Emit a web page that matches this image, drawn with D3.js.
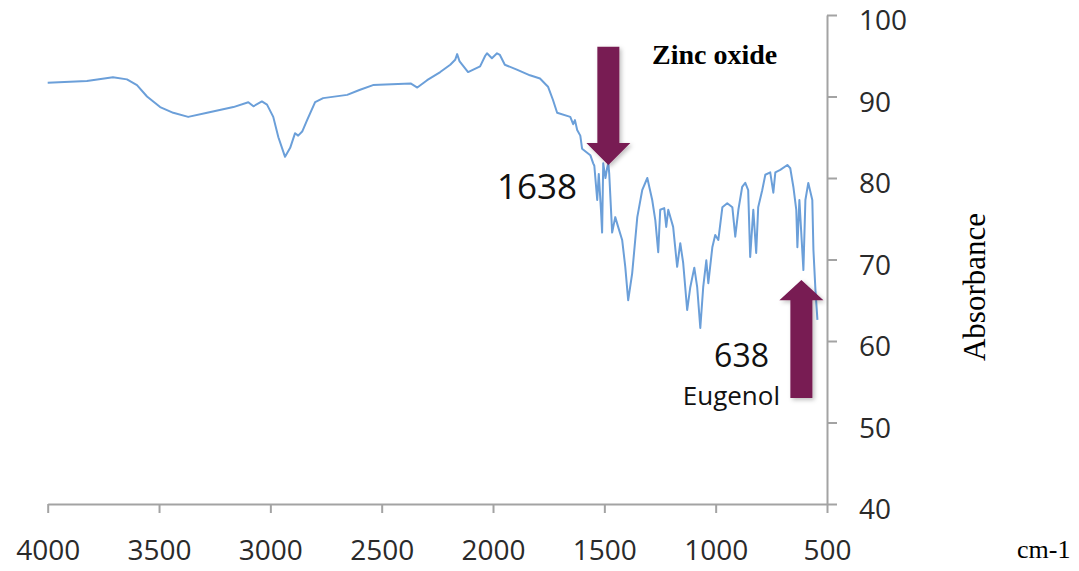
<!DOCTYPE html>
<html>
<head>
<meta charset="utf-8">
<script src="https://cdn.jsdelivr.net/npm/d3@7"></script>
<style>
  body { margin: 0; background: #fff; }
  svg { display: block; }
  .tick text { font-family: "Open Sans", sans-serif; font-size: 28px; fill: #2a2a2a; }
</style>
</head>
<body>
<div id="chart"></div>
<script>
// spectrum (wavenumber cm-1, value)
var wavenumber = [4000, 3824, 3707, 3644, 3599, 3554, 3495, 3436, 3369, 3284, 3166, 3099, 3076, 3038, 3015,
  2987, 2964, 2934, 2911, 2889, 2875, 2857, 2835, 2799, 2763, 2655, 2600, 2539, 2370, 2340, 2296, 2237,
  2192, 2170, 2161, 2150, 2112, 2058, 2035, 2027, 2005, 1982, 1969, 1947, 1893, 1834, 1789, 1753, 1731,
  1712, 1653, 1640, 1632, 1622, 1608, 1600, 1563, 1550, 1545, 1532, 1525, 1515, 1510, 1505, 1495, 1487,
  1482, 1478, 1465, 1451, 1438, 1420, 1406, 1393, 1375, 1352, 1330, 1307, 1285, 1271, 1258, 1249, 1231,
  1222, 1213, 1191, 1173, 1159, 1146, 1128, 1114, 1096, 1083, 1069, 1056, 1042, 1033, 1015, 1002, 988,
  970, 948, 925, 912, 898, 881, 867, 854, 845, 831, 818, 809, 791, 777, 755, 741, 732, 710, 678, 665,
  651, 638, 633, 624, 606, 597, 584, 566, 561, 552, 543];
var absorbance = [91.7, 91.9, 92.35, 92.1, 91.4, 90.0, 88.7, 88.0, 87.5, 88.0, 88.7, 89.3, 88.8, 89.4, 89.0,
  87.5, 85.0, 82.6, 83.7, 85.5, 85.2, 85.7, 87.1, 89.3, 89.8, 90.2, 90.8, 91.4, 91.6, 91.1, 92.0, 93.0,
  93.9, 94.5, 95.2, 94.3, 93.0, 93.7, 95.0, 95.3, 94.7, 95.3, 95.1, 93.9, 93.3, 92.6, 92.2, 91.2, 89.6,
  88.0, 87.5, 86.6, 87.1, 85.9, 85.2, 83.6, 82.8, 81.8, 81.5, 77.3, 80.5, 76.0, 73.3, 81.8, 80.0, 81.3,
  81.8, 80.5, 73.3, 75.2, 74.0, 72.4, 69.1, 65.0, 68.3, 75.2, 78.5, 80.0, 77.3, 74.8, 70.9, 76.1, 76.3,
  74.0, 76.1, 74.0, 69.1, 72.0, 69.6, 63.8, 66.6, 69.0, 66.6, 61.6, 66.6, 69.9, 67.1, 71.5, 73.0, 72.4,
  76.4, 76.9, 76.4, 72.8, 76.1, 78.9, 79.4, 78.5, 70.3, 76.1, 70.8, 76.4, 78.5, 80.4, 80.7, 78.2, 80.7, 81.0, 81.6, 81.2,
  78.9, 76.1, 71.5, 77.3, 68.7, 77.3, 79.4, 77.3, 71.2, 66.3, 62.6];

var xTicks = [4000, 3500, 3000, 2500, 2000, 1500, 1000, 500];
var yTicks = [40, 50, 60, 70, 80, 90, 100];

// annotation arrows: [wavenumber, tail value, head base value, tip value]
var arrowDown = [1482, 96.1, 84.3, 81.6];
var arrowUp = [615, 53.0, 65.0, 67.5];

var width = 1079, height = 571;
var svg = d3.select("#chart").append("svg")
    .attr("width", width)
    .attr("height", height);

svg.append("rect").attr("width", width).attr("height", height).attr("fill", "#fff");

var x = d3.scaleLinear().domain([4000, 500]).range([47.7, 827]);
var y = d3.scaleLinear().domain([40, 100]).range([504, 15]);

var axisColor = "#a3a3a3";

// x axis
var gx = svg.append("g")
    .attr("transform", "translate(0," + y(40) + ")")
    .call(d3.axisBottom(x).tickValues(xTicks).tickSize(9).tickSizeOuter(0).tickFormat(d3.format("d")));
gx.select(".domain").attr("stroke", axisColor).attr("stroke-width", 2);
gx.selectAll(".tick line").attr("stroke", axisColor).attr("stroke-width", 2);
gx.selectAll(".tick text").attr("y", 46).attr("dy", "0.35em");

// y axis on the right
var gy = svg.append("g")
    .attr("transform", "translate(" + x(500) + ",0)")
    .call(d3.axisRight(y).tickValues(yTicks).tickSize(10).tickSizeOuter(0));
gy.select(".domain").attr("stroke", axisColor).attr("stroke-width", 2);
gy.selectAll(".tick line").attr("stroke", axisColor).attr("stroke-width", 2);
gy.selectAll(".tick text").attr("x", 32).attr("dy", "0.52em");

// spectrum
var pts = wavenumber.map(function(d, i) { return [d, absorbance[i]]; });
var line = d3.line()
    .x(function(d) { return x(d[0]); })
    .y(function(d) { return y(d[1]); });

svg.append("path")
    .datum(pts)
    .attr("d", line)
    .attr("fill", "none")
    .attr("stroke", "#6b9fd9")
    .attr("stroke-width", 2)
    .attr("stroke-linejoin", "round");

// arrows
var defs = svg.append("defs");
var f = defs.append("filter").attr("id", "shadow").attr("x", "-30%").attr("y", "-10%")
    .attr("width", "160%").attr("height", "130%");
f.append("feDropShadow").attr("dx", 2).attr("dy", 2).attr("stdDeviation", 2)
    .attr("flood-color", "#000").attr("flood-opacity", 0.25);

function arrowPath(a) {
  var cx = x(a[0]), shaft = 11, head = 22;
  var y0 = y(a[1]), y1 = y(a[2]), y2 = y(a[3]);
  return "M" + (cx - shaft) + "," + y0 + "L" + (cx + shaft) + "," + y0 +
    "L" + (cx + shaft) + "," + y1 + "L" + (cx + head) + "," + y1 +
    "L" + cx + "," + y2 + "L" + (cx - head) + "," + y1 +
    "L" + (cx - shaft) + "," + y1 + "Z";
}

svg.selectAll(".arrow")
    .data([arrowDown, arrowUp])
    .enter().append("path")
    .attr("class", "arrow")
    .attr("d", arrowPath)
    .attr("fill", "#781a52")
    .attr("filter", "url(#shadow)");

// labels
svg.append("text")
    .attr("x", 652).attr("y", 64)
    .attr("font-family", "Liberation Serif, serif")
    .attr("font-weight", "bold")
    .attr("font-size", 28)
    .text("Zinc oxide");

svg.append("text")
    .attr("x", 577).attr("y", 199)
    .attr("text-anchor", "end")
    .attr("font-family", "Open Sans, sans-serif")
    .attr("font-size", 35)
    .attr("fill", "#111")
    .text("1638");

svg.append("text")
    .attr("x", 769).attr("y", 367)
    .attr("text-anchor", "end")
    .attr("font-family", "Open Sans, sans-serif")
    .attr("font-size", 32)
    .attr("fill", "#111")
    .text("638");

svg.append("text")
    .attr("x", 780).attr("y", 405)
    .attr("text-anchor", "end")
    .attr("font-family", "Open Sans, sans-serif")
    .attr("font-size", 26)
    .attr("fill", "#111")
    .text("Eugenol");

svg.append("text")
    .attr("transform", "translate(985,287) rotate(-90)")
    .attr("text-anchor", "middle")
    .attr("font-family", "Liberation Serif, serif")
    .attr("font-size", 31)
    .text("Absorbance");

svg.append("text")
    .attr("x", 1017).attr("y", 558)
    .attr("font-family", "Liberation Serif, serif")
    .attr("font-size", 26)
    .text("cm-1");
</script>
</body>
</html>
